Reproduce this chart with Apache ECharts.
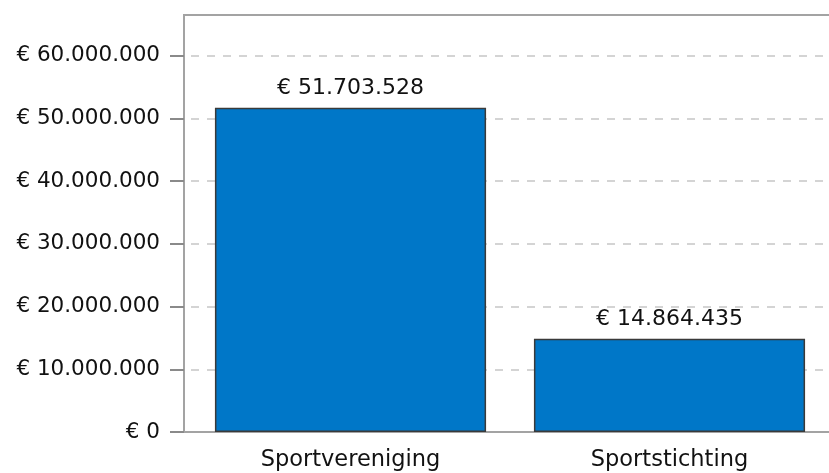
<!DOCTYPE html>
<html>
<head>
<meta charset="utf-8">
<script src="https://cdn.jsdelivr.net/npm/echarts@6/dist/echarts.min.js"></script>
<style>
  html, body { margin: 0; padding: 0; background: #fff; }
  #chart01 { width: 829px; height: 473px; }
</style>
</head>
<body>
<div id="chart01"></div>
<script>
// data
var categories = ["Sportvereniging", "Sportstichting"];
var bedragen = [51703528, 14864435];
var yTicks = [0, 10000000, 20000000, 30000000, 40000000, 50000000, 60000000];
var yMax = 66500000;

// € 1.234.567
function euro(v) {
    return "€ " + String(Math.round(v)).replace(/\B(?=(\d{3})+(?!\d))/g, ".");
}

var lijnKleur = "#a3a3a3";
var tekstFont = "DejaVu Sans";

var myChart01 = echarts.init(document.getElementById('chart01'));
var option = {
    animation: false,
    grid: {
        left: 191,
        right: 0,
        top: 15,
        bottom: 41
    },
    xAxis: [
        {
            type: "category",
            data: categories,
            axisLine: { lineStyle: { color: lijnKleur, width: 2 } },
            axisTick: { alignWithLabel: true, length: 13, lineStyle: { color: "#8a8a8a", width: 2 } },
            axisLabel: { color: "#111", fontFamily: tekstFont, fontSize: 22.5, margin: 17 },
            splitLine: { show: false }
        },
        {
            type: "category",
            position: "top",
            data: categories,
            axisLine: { lineStyle: { color: lijnKleur, width: 2 } },
            axisTick: { show: false },
            axisLabel: { show: false },
            splitLine: { show: false }
        }
    ],
    yAxis: [
        {
            type: "value",
            min: 0,
            max: yMax,
            offset: 7,
            axisLine: { show: true, lineStyle: { color: lijnKleur, width: 2 } },
            axisTick: { show: true, length: 14, customValues: yTicks, lineStyle: { color: "#8a8a8a", width: 2 } },
            axisLabel: {
                customValues: yTicks,
                color: "#111",
                fontFamily: tekstFont,
                fontSize: 21.5,
                margin: 24,
                formatter: function (v) { return euro(v); }
            },
            splitLine: {
                show: true,
                lineStyle: { color: "#d4d4d4", width: 2, type: [8, 8] }
            }
        }
    ],
    graphic: [
        { type: "line", shape: { x1: 183, y1: 432, x2: 192, y2: 432 }, style: { stroke: lijnKleur, lineWidth: 2 } },
        { type: "line", shape: { x1: 183, y1: 15, x2: 192, y2: 15 }, style: { stroke: lijnKleur, lineWidth: 2 } }
    ],
    series: [
        {
            name: "Bedrag",
            type: "bar",
            data: bedragen,
            barCategoryGap: "15%",
            itemStyle: { color: "#0077c8", borderColor: "#3a3a3a", borderWidth: 1.5 },
            label: {
                show: true,
                position: "top",
                distance: 9,
                color: "#111",
                fontFamily: tekstFont,
                fontSize: 22,
                formatter: function (p) { return euro(p.value); }
            }
        }
    ]
};
myChart01.setOption(option);
</script>
</body>
</html>
